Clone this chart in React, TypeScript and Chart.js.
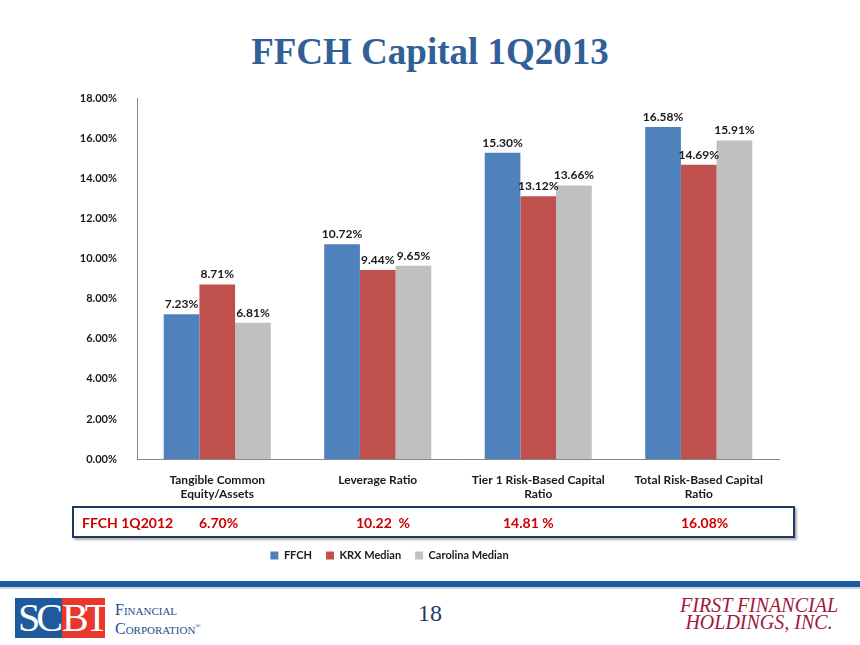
import React, { useEffect, useRef } from "react";
import { Chart, registerables } from "chart.js";

Chart.register(...registerables);

const categories: string[][] = [
  ["Tangible Common", "Equity/Assets"],
  ["Leverage Ratio"],
  ["Tier 1 Risk-Based Capital", "Ratio"],
  ["Total Risk-Based Capital", "Ratio"],
];
const ffch = [7.23, 10.72, 15.3, 16.58];
const krxMedian = [8.71, 9.44, 13.12, 14.69];
const carolinaMedian = [6.81, 9.65, 13.66, 15.91];
const seriesNames = ["FFCH", "KRX Median", "Carolina Median"];
const seriesColors = ["#4F81BD", "#C0504D", "#C0C0C0"];
const priorLabel = "FFCH 1Q2012";
const priorValues = ["6.70%", "10.22  %", "14.81 %", "16.08%"];

const FONT = "Lato, 'Open Sans', sans-serif";

const dataLabels = {
  id: "dataLabels",
  afterDatasetsDraw(chart: any) {
    const ctx = chart.ctx;
    ctx.save();
    ctx.font = `bold 12px ${FONT}`;
    ctx.fillStyle = "#1a1a1a";
    ctx.textAlign = "center";
    ctx.textBaseline = "bottom";
    chart.data.datasets.forEach((ds: any, i: number) => {
      const meta = chart.getDatasetMeta(i);
      meta.data.forEach((bar: any, j: number) => {
        ctx.fillText(ds.data[j].toFixed(2) + "%", bar.x, bar.y - 4);
      });
    });
    ctx.restore();
  },
};

function BarChart() {
  const ref = useRef<HTMLCanvasElement>(null);
  useEffect(() => {
    if (!ref.current) return;
    const chart = new Chart(ref.current, {
      type: "bar",
      data: {
        labels: categories,
        datasets: [ffch, krxMedian, carolinaMedian].map((d, i) => ({
          label: seriesNames[i],
          data: d,
          backgroundColor: seriesColors[i],
          borderWidth: 0,
          categoryPercentage: 0.667,
          barPercentage: 1,
        })),
      },
      options: {
        responsive: false,
        animation: false,
        layout: { padding: { left: 0, right: 81, top: 9, bottom: 0 } },
        plugins: {
          tooltip: { enabled: false },
          title: { display: false },
          legend: {
            position: "bottom",
            labels: {
              boxWidth: 8,
              boxHeight: 8,
              padding: 14,
              color: "#1a1a1a",
              font: { family: FONT, size: 11, weight: "bold" },
            },
          },
        },
        scales: {
          x: {
            grid: { display: false },
            border: { display: true, color: "#868686" },
            ticks: {
              color: "#1a1a1a",
              padding: 6,
              font: { family: FONT, size: 12, weight: "bold" },
              maxRotation: 0,
            },
            afterFit: (s: any) => {
              s.height = 77;
            },
          },
          y: {
            min: 0,
            max: 18,
            grid: { display: false },
            border: { display: true, color: "#868686" },
            ticks: {
              stepSize: 2,
              color: "#1a1a1a",
              padding: 12,
              font: { family: FONT, size: 11, weight: "bold" },
              callback: (v: any) => Number(v).toFixed(2) + "%",
            },
            afterFit: (s: any) => {
              s.width = 137;
            },
          },
        },
      },
      plugins: [dataLabels],
    });
    return () => chart.destroy();
  }, []);
  return (
    <canvas
      ref={ref}
      width={860}
      height={491}
      style={{ position: "absolute", left: 0, top: 80, width: 860, height: 491 }}
    />
  );
}

export default function App() {
  const priorX = [199, 356, 503, 681];
  return (
    <div
      style={{
        position: "fixed",
        left: 0,
        top: 0,
        width: 860,
        height: 645,
        background: "#fff",
        overflow: "hidden",
      }}
    >
      <div
        style={{
          position: "absolute",
          left: 0,
          top: 27,
          width: 860,
          textAlign: "center",
          fontFamily: "'Liberation Serif', serif",
          fontWeight: "bold",
          fontSize: 37,
          color: "#325F98",
          lineHeight: "50px",
        }}
      >
        FFCH Capital 1Q2013
      </div>
      <BarChart />
      <div
        style={{
          position: "absolute",
          left: 72,
          top: 506,
          width: 719,
          height: 28,
          border: "2px solid #1F3864",
          boxShadow: "2px 2px 2px #b0b0b0",
          fontFamily: FONT,
          fontWeight: "bold",
          fontSize: 14,
          color: "#CC0000",
        }}
      >
        <span style={{ position: "absolute", left: 8, top: 6 }}>{priorLabel}</span>
        {priorValues.map((v, i) => (
          <span
            key={i}
            style={{ position: "absolute", left: priorX[i] - 74, top: 6, whiteSpace: "pre" }}
          >
            {v}
          </span>
        ))}
      </div>
      <div style={{ position: "absolute", left: 0, top: 581, width: 860, height: 6, background: "#1F5A9C" }} />
      <div style={{ position: "absolute", left: 0, top: 587, width: 860, height: 2, background: "#C9D6E6" }} />
      <div style={{ position: "absolute", left: 15, top: 598, width: 47, height: 40, background: "#1F5A9C" }} />
      <div style={{ position: "absolute", left: 62, top: 598, width: 43, height: 40, background: "#E8372C" }} />
      <div
        style={{
          position: "absolute",
          left: 15,
          top: 596,
          width: 47,
          textAlign: "center",
          fontFamily: "'Liberation Serif', serif",
          fontSize: 40,
          lineHeight: "44px",
          color: "#fff",
          letterSpacing: -4,
        }}
      >
        SC
      </div>
      <div
        style={{
          position: "absolute",
          left: 62,
          top: 596,
          width: 43,
          textAlign: "center",
          fontFamily: "'Liberation Serif', serif",
          fontSize: 40,
          lineHeight: "44px",
          color: "#fff",
          letterSpacing: -4,
        }}
      >
        BT
      </div>
      <div
        style={{
          position: "absolute",
          left: 115,
          top: 601,
          fontFamily: "'Liberation Serif', serif",
          fontSize: 16,
          lineHeight: "17px",
          color: "#1F4E8F",
          fontVariant: "small-caps",
        }}
      >
        Financial
        <br />
        Corporation<sup style={{ fontSize: 7 }}>®</sup>
      </div>
      <div
        style={{
          position: "absolute",
          left: 380,
          top: 600,
          width: 100,
          textAlign: "center",
          fontFamily: "'Liberation Serif', serif",
          fontSize: 24,
          color: "#1F3A6E",
        }}
      >
        18
      </div>
      <div
        style={{
          position: "absolute",
          right: 22,
          top: 597,
          textAlign: "center",
          fontFamily: "'Liberation Serif', serif",
          fontStyle: "italic",
          fontSize: 20,
          lineHeight: "17px",
          color: "#9E1B3B",
        }}
      >
        FIRST FINANCIAL
        <br />
        HOLDINGS, INC.
      </div>
    </div>
  );
}
